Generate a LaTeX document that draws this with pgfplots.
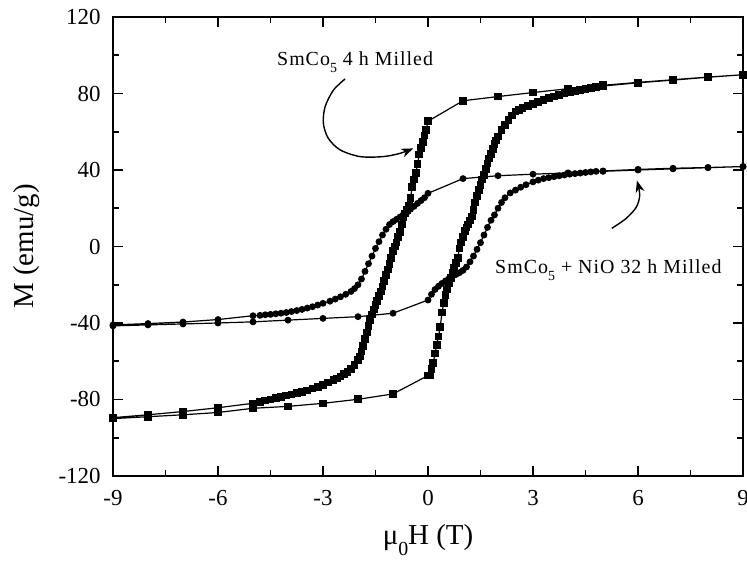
\documentclass[border=0pt]{standalone}
\usepackage{fontspec}
\setmainfont{Liberation Serif}
\newfontfamily\annfont[LetterSpace=5]{Liberation Serif}
\usepackage{pgfplots}
\pgfplotsset{compat=1.18}
\usetikzlibrary{arrows.meta}
\newcommand\lsub[2]{\raisebox{-0.8ex}{\fontsize{#1}{#1}\selectfont #2}}
\begin{document}
\begin{tikzpicture}
\begin{axis}[
 name=ax,
 scale only axis, width=315bp, height=229.5bp,
 xmin=-9, xmax=9, ymin=-120, ymax=120,
 xtick={-9,-6,-3,0,3,6,9}, ytick={-120,-80,-40,0,40,80,120},
 minor x tick num=1, minor y tick num=1,
 tick align=inside,
 major tick length=5bp, minor tick length=3bp,
 axis line style={line width=1bp},
 every tick/.style={black, line width=0.8bp},
 tick label style={font=\fontsize{11.5}{13}\selectfont},
 yticklabel style={xshift=-2.7bp},
 xticklabel style={yshift=-3.5bp},
 /pgf/number format/assume math mode=true,
 xlabel={μ\lsub{10}{0}H (T)}, ylabel={M (emu/g)},
 label style={font=\fontsize{14.5}{17}\selectfont},
 xlabel style={at={(axis description cs:0.5,-0.139)}, anchor=center},
 ylabel style={at={(axis description cs:-0.1365,0.5)}, anchor=center},
]
% SmCo5 4 h milled
\addplot[black, line width=0.6bp, mark=square*, mark size=1.6bp] coordinates {
(9,89.8) (8,88.6) (7,87.2) (6,85.8) (5,84.3) (4,82.5) (3,80.5) (2,78.4) (1,76.2) (0,65.5)
(-0.05,61) (-0.10,58) (-0.15,54.5) (-0.20,51.5) (-0.25,48) (-0.30,43) (-0.35,38.5) (-0.40,35)
(-0.45,31) (-0.50,25.5) (-0.55,21.5) (-0.60,19) (-0.65,17.3) (-0.70,15.3) (-0.75,11.5) (-0.80,7.7)
(-0.85,5) (-0.90,2) (-0.95,0) (-1.00,-2.5) (-1.05,-6) (-1.10,-9) (-1.15,-12) (-1.20,-15)
(-1.25,-18) (-1.30,-21) (-1.35,-23.5) (-1.40,-26) (-1.45,-28.5) (-1.50,-30.5) (-1.55,-33)
(-1.60,-35.5) (-1.65,-38.5) (-1.70,-41.5) (-1.75,-45) (-1.80,-48.5) (-1.85,-52) (-1.90,-55)
(-1.95,-57.5) (-2.00,-59.5) (-2.10,-62) (-2.20,-64) (-2.30,-65.5) (-2.40,-66.8) (-2.50,-68)
(-2.60,-69) (-2.70,-69.8) (-2.85,-71.2) (-3.00,-72.4) (-3.15,-73.4) (-3.30,-74.3) (-3.45,-75.2)
(-3.60,-76) (-3.75,-76.7) (-3.90,-77.4) (-4.05,-78) (-4.20,-78.7) (-4.35,-79.3) (-4.50,-80)
(-4.65,-80.6) (-4.80,-81.2) (-5.00,-82)
(-6,-84.3) (-7,-86.3) (-8,-88) (-9,-89.5)
(-9,-90) (-8,-89) (-7,-88) (-6,-86.8) (-5,-84.6) (-4,-83.6) (-3,-82) (-2,-79.9) (-1,-77.1)
(0,-67.5) (0.05,-67.5) (0.10,-64) (0.15,-61) (0.20,-56) (0.25,-51.5) (0.30,-47) (0.35,-42)
(0.40,-34.5) (0.45,-29.5) (0.50,-25.5) (0.55,-22.5) (0.60,-19) (0.65,-16.5) (0.70,-13.5)
(0.75,-11) (0.80,-8.5) (0.85,-6) (0.90,-1) (0.95,2) (1.00,5) (1.05,8) (1.10,10) (1.15,11.5)
(1.20,13.5) (1.25,15.6) (1.30,19) (1.35,23) (1.40,26.5) (1.45,29.5) (1.50,32) (1.55,35)
(1.60,37.5) (1.65,40.5) (1.70,43.5) (1.75,46) (1.80,48.5) (1.85,51) (1.90,53.5) (1.95,55.5)
(2.00,57.5) (2.10,61) (2.20,63.5) (2.30,66) (2.40,68.5) (2.50,70.5) (2.60,71.5) (2.70,72.5)
(2.85,73.5) (3.00,74.6) (3.15,75.7) (3.30,76.6) (3.45,77.5) (3.60,78.4) (3.75,79.2) (3.90,79.9)
(4.05,80.6) (4.20,81.2) (4.35,81.7) (4.50,82.2) (4.65,82.8) (4.80,83.3) (5.00,83.9)
(6,85.6) (7,87) (8,88.5) (9,89.8)
};
% SmCo5 + NiO 32 h milled
\addplot[black, line width=0.6bp, mark=*, mark size=1.4bp] coordinates {
(9,41.8) (8,41.2) (7,40.6) (6,40) (5,39.3) (4,38.5) (3,37.8) (2,37) (1,35.5) (0,27.8)
(-0.10,25.5) (-0.20,24) (-0.30,22.5) (-0.40,21) (-0.50,19.5) (-0.60,18) (-0.70,16.8) (-0.80,15.4)
(-0.90,14.2) (-1.00,13) (-1.10,11.5) (-1.20,9) (-1.30,6) (-1.40,2.5) (-1.50,-1) (-1.60,-5)
(-1.70,-9) (-1.80,-13) (-1.90,-17) (-2.00,-20) (-2.10,-22) (-2.20,-23.5) (-2.35,-25) (-2.50,-26.3)
(-2.65,-27.5) (-2.80,-28.6) (-3.00,-29.7) (-3.15,-30.6) (-3.30,-31.5) (-3.45,-32.2) (-3.60,-32.9)
(-3.75,-33.5) (-3.90,-34) (-4.05,-34.5) (-4.20,-34.9) (-4.35,-35.2) (-4.50,-35.5) (-4.65,-35.7)
(-4.80,-36) (-5.00,-36.2)
(-6,-38.2) (-7,-39.5) (-8,-40.3) (-9,-41)
(-9,-41.5) (-8,-41) (-7,-40.5) (-6,-40) (-5,-39.4) (-4,-38.5) (-3,-37.6) (-2,-36.7) (-1,-34.9)
(0,-28) (0.10,-25) (0.20,-22.5) (0.30,-20.8) (0.40,-19.3) (0.50,-18) (0.60,-16.8) (0.70,-15.6)
(0.80,-14.6) (0.90,-13.7) (1.00,-12.5) (1.10,-10.7) (1.20,-8) (1.30,-5) (1.40,-1.5) (1.50,2)
(1.60,6) (1.70,10) (1.80,13.7) (1.90,16.5) (2.00,20) (2.10,23) (2.20,25.5) (2.35,28) (2.50,29.5)
(2.65,31) (2.80,32.3) (3.00,33.8) (3.15,34.7) (3.30,35.5) (3.45,36) (3.60,36.5) (3.75,37)
(3.90,37.4) (4.05,37.8) (4.20,38.1) (4.35,38.4) (4.50,38.7) (4.65,39) (4.80,39.3) (5.00,39.5)
(6,40.3) (7,40.9) (8,41.3) (9,41.8)
};
% annotation arrows
\addplot[black, line width=0.7bp, smooth, no marks, -{Stealth[length=6bp,width=4.5bp]}] coordinates {
(-2.37,87.6) (-2.7,81.8) (-2.94,73.1) (-2.99,64.4) (-2.85,56.6) (-2.51,50.5) (-1.94,47) (-1.28,47) (-0.8,48.7) (-0.42,51.3)
};
\addplot[black, line width=0.7bp, smooth, no marks, -{Stealth[length=6bp,width=4.5bp]}] coordinates {
(5.25,9.5) (5.65,14.5) (5.95,20.5) (6.05,27) (5.97,34.5)
};
\node[anchor=base west, inner sep=0, font=\annfont\fontsize{10}{12}\selectfont] at (axis cs:-4.32,94.9) {SmCo\lsub{7}{5} 4 h Milled};
\node[anchor=base west, inner sep=0, font=\annfont\fontsize{10}{12}\selectfont] at (axis cs:1.91,-13.9) {SmCo\lsub{7}{5} + NiO 32 h Milled};
\end{axis}
\pgfresetboundingbox
\path[use as bounding box] ([shift={(-56.5bp,-43bp)}]ax.south west) rectangle ([shift={(2bp,8.5bp)}]ax.north east);
\end{tikzpicture}
\end{document}
